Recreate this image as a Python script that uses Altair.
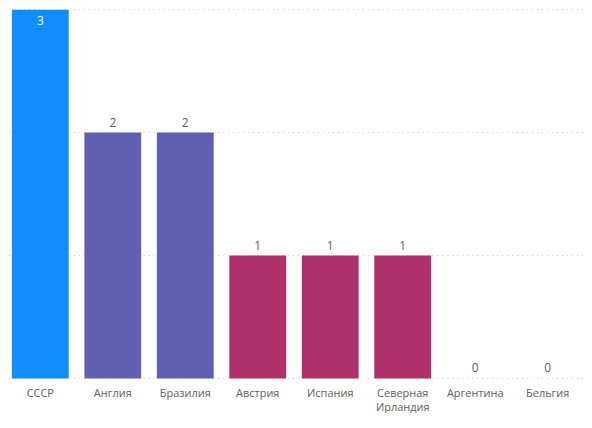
import pandas as pd
import altair as alt

# Chart values
countries = ["СССР", "Англия", "Бразилия", "Австрия", "Испания",
             "Северная Ирландия", "Аргентина", "Бельгия"]
counts = [3, 2, 2, 1, 1, 1, 0, 0]
bar_colors = ["#118DFF", "#615EB3", "#615EB3", "#B0306A", "#B0306A",
              "#B0306A", "#B0306A", "#B0306A"]
grid_levels = [0, 1, 2, 3]

df = pd.DataFrame({"country": countries, "count": counts})
grid = pd.DataFrame({"level": grid_levels})

FONT = "Open Sans"
W, H = 572, 370

x = alt.X("country:N", sort=countries, title=None,
          scale=alt.Scale(paddingInner=0.216, paddingOuter=0.04),
          axis=alt.Axis(domain=False, ticks=False, labelAngle=0,
                        labelFont=FONT, labelFontSize=11, labelColor="#605E5C",
                        labelPadding=9, labelLineHeight=14,
                        labelExpr="split(datum.label, ' ')"))
y_scale = alt.Scale(domain=[0, 3], nice=False)

gridlines = alt.Chart(grid).mark_rule(
    color="#C8C6C4", strokeDash=[1, 4], strokeWidth=1
).encode(
    y=alt.Y("level:Q", scale=y_scale, axis=None),
    x=alt.value(0),
    x2=alt.value(W + 4),
)

bars = alt.Chart(df).mark_bar().encode(
    x=x,
    y=alt.Y("count:Q", scale=y_scale, axis=None),
    color=alt.Color("country:N", scale=alt.Scale(domain=countries, range=bar_colors),
                    legend=None),
)

labels_out = alt.Chart(df).transform_filter(alt.datum["count"] < 3).mark_text(
    baseline="bottom", dy=-3, font=FONT, fontSize=12, color="#605E5C"
).encode(
    x=alt.X("country:N", sort=countries),
    y=alt.Y("count:Q", scale=y_scale),
    text="count:Q",
)

labels_in = alt.Chart(df).transform_filter(alt.datum["count"] >= 3).mark_text(
    baseline="top", dy=6, font=FONT, fontSize=12, color="white"
).encode(
    x=alt.X("country:N", sort=countries),
    y=alt.Y("count:Q", scale=y_scale),
    text="count:Q",
)

chart = alt.layer(gridlines, bars, labels_out, labels_in).properties(
    width=W, height=H, padding=0
).configure_view(stroke=None)

chart.save("out.html", embed_options={"renderer": "svg", "actions": False})
